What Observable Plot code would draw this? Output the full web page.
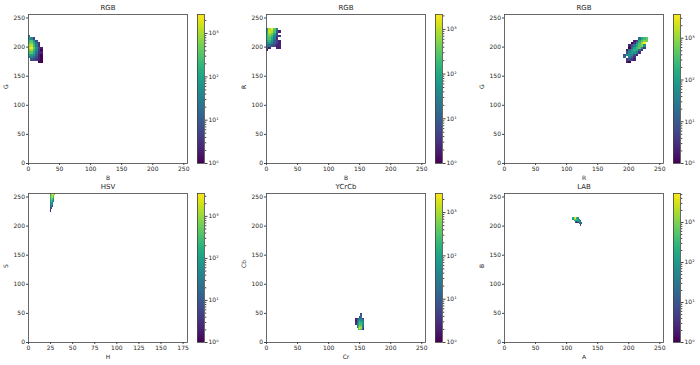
<!DOCTYPE html>
<html><head><meta charset="utf-8">
<script src="https://cdn.jsdelivr.net/npm/d3@7"></script>
<script src="https://cdn.jsdelivr.net/npm/@observablehq/plot@0.6"></script>
<style>
body{margin:0;background:#fff;}
#fig{position:relative;width:700px;height:365px;overflow:hidden;background:#fff;}
#fig svg{position:absolute;overflow:visible;}
</style></head><body><div id="fig"></div>
<script>
// ---- data: rows of [yBinStart, xBinStart, counts per consecutive x bin] ----
const rgbBG = [
  [216, 0, [20]],
  [212, 0, [80, 40, 5]],
  [208, 0, [200, 300, 60, 6]],
  [204, 0, [400, 500, 150, 20, 3]],
  [200, 0, [800, 1200, 200, 30, 3]],
  [196, 0, [900, 2750, 400, 60, 5, 2]],
  [192, 0, [500, 900, 250, 40, 4, 1]],
  [188, 0, [250, 350, 120, 20, 3, 2]],
  [184, 0, [90, 90, 50, 10, 2, 1]],
  [180, 0, [30, 40, 20, 6, 2, 1]],
  [176, 4, [8, 6, 4, 2, 1]],
  [172, 16, [1, 1]]
];
const rgbBR = [
  [228, 0, [60, 800, 2150, 300, 30]],
  [224, 0, [100, 1200, 900, 250, 10, 2]],
  [220, 0, [150, 600, 400, 100, 6]],
  [216, 0, [200, 400, 200, 40, 4, 3]],
  [212, 0, [150, 250, 100, 20, 3]],
  [208, 0, [100, 150, 60, 12, 5, 2]],
  [204, 0, [50, 60, 30, 10, 4, 2]],
  [200, 0, [20, 15, 8, 5, 2, 2]],
  [196, 0, [4, 2, null, null, 2, 2]],
  [192, 0, [2]]
];
const rgbRG = [
  [212, 216, [20, 150, 300, 500]],
  [208, 208, [2, 4, 150, 400, 900, 600]],
  [204, 204, [1, 3, 60, 300, 1200, 3700]],
  [200, 200, [2, 8, 30, 150, 400, 800, 60]],
  [196, 200, [1, 15, 100, 300, 500, 30, 4]],
  [192, 196, [2, 20, 80, 200, 150, 15, 3]],
  [188, 196, [8, 40, 100, 80, 25, 3]],
  [184, 192, [10, 50, 60, 40, 8, 2]],
  [180, 192, [15, null, 30, 15, 3]],
  [176, 196, [4, 8, 4, 2]],
  [172, 196, [2, 1]]
];
const hsvHS = [
  [252, 25, [150, 1200, 3500, 2000, 500]],
  [248, 25, [200, 1000, 1500, 300]],
  [244, 25, [150, 600, 400, 40]],
  [240, 25, [80, 300, 150, 15]],
  [236, 25, [40, 100, 30]],
  [232, 25, [15, 40, 8]],
  [228, 25, [6, 8]],
  [224, 25, [3]]
];
const ycrcbCrCb = [
  [48, 152, [5]],
  [46, 152, [8]],
  [44, 152, [10]],
  [42, 150, [6, 15]],
  [40, 144, [2, 4, 12, 30, 20, 10, 3]],
  [38, 144, [3, 6, 20, 60, 40, 25, 8]],
  [36, 144, [2, 10, 40, 100, 60, 40, 12]],
  [34, 144, [2, 12, 60, 150, 100, 80, 20]],
  [32, 144, [3, 15, 80, 200, 150, 100, 25]],
  [30, 144, [3, 20, 100, 300, 250, 80, 20]],
  [28, 146, [30, 150, 400, 350, 60, 12]],
  [26, 146, [20, 200, 700, 600, 50, 8]],
  [24, 146, [12, 300, 1200, 900, 40, 4]],
  [22, 148, [500, 2750, 800, 30, 3]],
  [20, 148, [200, 400, 250, 8, 2]]
];
const labAB = [
  [212, 110, [150, 2000, 5300, 300, 80]],
  [210, 110, [60, 900, 700, 350, 150, 30]],
  [208, 112, [150, 300, 200, 150, 100, 20]],
  [206, 114, [12, 4, 80, 120, 30]],
  [204, 114, [6, 3, 2, 60, 40, 15]],
  [202, 120, [30, 20, 8]],
  [200, 122, [5]]
];
const ticks256 = [0, 50, 100, 150, 200, 250];
const ticks180 = [0, 25, 50, 75, 100, 125, 150, 175];
const cbMajor = [1, 10, 100, 1000];

const panels = [
  {title: "RGB",   xLabel: "B",  yLabel: "G",  xMax: 256, xTicks: ticks256, rows: rgbBG,     bx: 4, by: 4},
  {title: "RGB",   xLabel: "B",  yLabel: "R",  xMax: 256, xTicks: ticks256, rows: rgbBR,     bx: 4, by: 4},
  {title: "RGB",   xLabel: "R",  yLabel: "G",  xMax: 256, xTicks: ticks256, rows: rgbRG,     bx: 4, by: 4},
  {title: "HSV",   xLabel: "H",  yLabel: "S",  xMax: 180, xTicks: ticks180, rows: hsvHS,     bx: 1, by: 4},
  {title: "YCrCb", xLabel: "Cr", yLabel: "Cb", xMax: 256, xTicks: ticks256, rows: ycrcbCrCb, bx: 2, by: 2},
  {title: "LAB",   xLabel: "A",  yLabel: "B",  xMax: 256, xTicks: ticks256, rows: labAB,     bx: 2, by: 2}
];
// layout (px)
const layout = [
  {left: 0,   top: 0,   cb: 197},
  {left: 238, top: 0,   cb: 435},
  {left: 476, top: 0,   cb: 673},
  {left: 0,   top: 179, cb: 197},
  {left: 238, top: 179, cb: 435},
  {left: 476, top: 179, cb: 673}
];

const fig = document.getElementById("fig");
const ink = "#262626";
const baseStyle = {fontFamily: "DejaVu Sans, sans-serif", fontSize: "6px", color: ink, background: "transparent"};
const sup = {0: "\u2070", 1: "\u00b9", 2: "\u00b2", 3: "\u00b3", 4: "\u2074"};

function cells(rows, bx, by) {
  const out = [];
  for (const [y, x0, counts] of rows) counts.forEach((c, i) => {
    if (c) out.push({x1: x0 + i * bx, x2: x0 + (i + 1) * bx, y1: y, y2: y + by, count: c});
  });
  return out;
}

function place(svg, left, top) {
  svg.style.left = left + "px";
  svg.style.top = top + "px";
  fig.appendChild(svg);
}

panels.forEach((p, k) => {
  const L = layout[k];
  const data = cells(p.rows, p.bx, p.by);
  const max = d3.max(data, d => d.count);
  const color = {type: "log", scheme: "viridis", domain: [1, max]};
  const svg = Plot.plot({
    width: 197, height: 182,
    marginLeft: 28, marginRight: 10, marginTop: 14, marginBottom: 19,
    style: baseStyle,
    x: {domain: [0, p.xMax], label: null},
    y: {domain: [0, 256], label: null},
    color,
    marks: [
      Plot.rect(data, {x1: "x1", x2: "x2", y1: "y1", y2: "y2", fill: "count", shapeRendering: "crispEdges"}),
      Plot.frame({stroke: "#444", strokeWidth: 0.8}),
      Plot.axisX({ticks: p.xTicks, tickSize: 2, tickPadding: 1.5, label: null, stroke: "#444", fill: ink}),
      Plot.axisY({ticks: ticks256, tickSize: 2, tickPadding: 1.5, label: null, stroke: "#444", fill: ink}),
      Plot.text([p.title], {text: d => d, frameAnchor: "top", dy: -7, fontSize: 7, lineAnchor: "middle", fill: ink, fontWeight: "normal"}),
      Plot.text([p.xLabel], {text: d => d, frameAnchor: "bottom", dy: 15, lineAnchor: "middle", fill: ink, fontWeight: "normal"}),
      Plot.text([p.yLabel], {text: d => d, frameAnchor: "left", dx: -22, rotate: -90, lineAnchor: "middle", fill: ink, fontWeight: "normal"})
    ]
  });
  place(svg, L.left, L.top);

  // colorbar
  const n = 150;
  const levels = d3.range(n).map(i => {
    const lo = Math.pow(max, i / n), hi = Math.pow(max, (i + 1) / n);
    return {lo, hi, mid: Math.sqrt(lo * hi)};
  });
  const minor = [];
  for (let e = 0; e < 4; e++) for (let m = 2; m <= 9; m++) {
    const v = m * Math.pow(10, e);
    if (v <= max) minor.push(v);
  }
  const cb = Plot.plot({
    width: 40, height: 182,
    marginLeft: 0, marginRight: 33, marginTop: 14, marginBottom: 19,
    style: baseStyle,
    y: {type: "log", domain: [1, max], label: null},
    color,
    marks: [
      Plot.rect(levels, {y1: "lo", y2: "hi", fill: "mid", shapeRendering: "crispEdges"}),
      Plot.frame({stroke: "#444", strokeWidth: 0.8}),
      Plot.axisY({anchor: "right", ticks: minor, tickSize: 1.3, tickFormat: () => "", label: null, stroke: "#444"}),
      Plot.axisY({anchor: "right", ticks: cbMajor.filter(v => v <= max), tickSize: 2.5, tickPadding: 1.5,
        tickFormat: d => "10" + sup[Math.round(Math.log10(d))], label: null, stroke: "#444", fill: ink})
    ]
  });
  place(cb, L.cb, L.top);
});
</script>
</body></html>
